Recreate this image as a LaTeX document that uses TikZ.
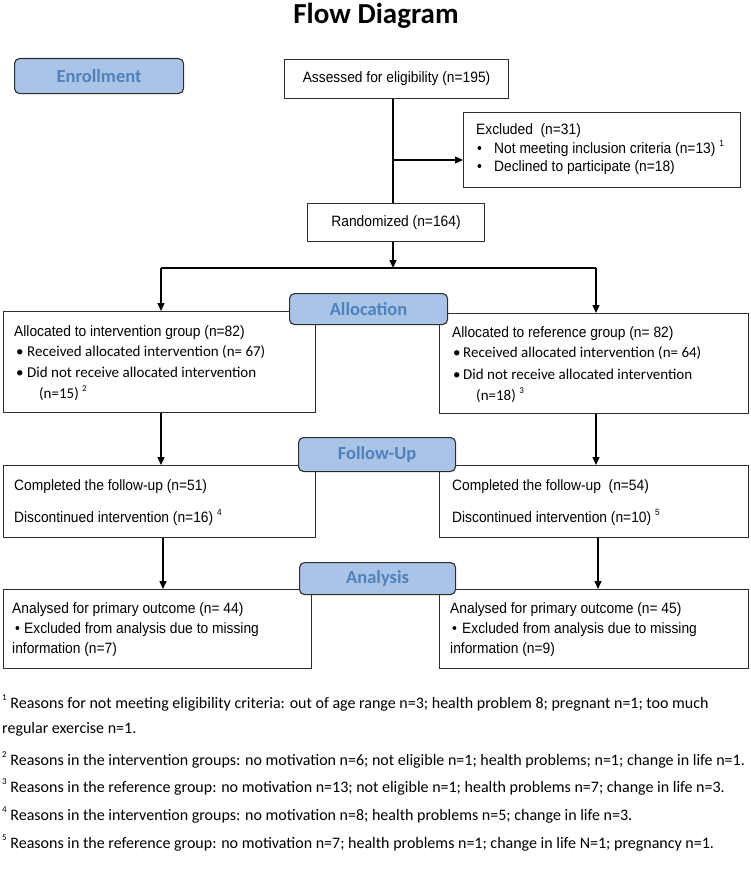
\documentclass[tikz,border=0pt]{standalone}
\usepackage{fontspec}
\setmainfont{Carlito}
\newfontfamily\arl[FakeStretch=0.92]{Liberation Sans}
\usetikzlibrary{arrows.meta}
\definecolor{lblfill}{RGB}{169,196,230}
\definecolor{lbltext}{RGB}{79,129,189}
\definecolor{bordr}{RGB}{45,45,45}
\newcommand{\supn}[1]{\raisebox{0.45em}{\fontsize{9}{9}\selectfont #1}}
\begin{document}
\begin{tikzpicture}[x=1pt,y=-1pt,
  box/.style={draw=bordr, line width=1.1pt, fill=white, anchor=north west, inner sep=0pt},
  lbl/.style={draw=bordr, line width=1.1pt, fill=lblfill, rounded corners=5pt, anchor=north west, inner sep=0pt, text=lbltext, font=\fontsize{18.5}{18.5}\selectfont\bfseries},
  conn/.style={line width=1.4pt, black},
  arr/.style={conn, -{Triangle[length=8pt,width=7pt]}},
  ta/.style={anchor=base west, inner sep=0pt, font=\arl\fontsize{15}{18}\selectfont},
  tc/.style={anchor=base west, inner sep=0pt, font=\fontsize{15}{18}\selectfont},
  fn/.style={anchor=base west, inner sep=0pt, font=\fontsize{16}{19}\selectfont},
]
\useasboundingbox (0,0) rectangle (750,875);

\node[font=\fontsize{29}{29}\selectfont\bfseries, anchor=base, inner sep=0pt] (title) at (376,24) {Flow Diagram};

% Enrollment
\node[lbl, minimum width=169pt, minimum height=35pt] (enrol) at (14,58) {Enrollment};
\node[box, minimum width=224pt, minimum height=39pt, anchor=north west, font=\arl\fontsize{15}{18}\selectfont] (assess) at (284,59) {Assessed for eligibility (n=195)};
\node[box, minimum width=277pt, minimum height=75pt] (excl) at (463,112) {};
\node[ta] (ex1) at (476,134.5) {Excluded\ \ (n=31)};
\node[ta] (ex2b) at (477,153) {•};
\node[ta] (ex2) at (494,153) {Not meeting inclusion criteria (n=13) \supn{1}};
\node[ta] (ex3b) at (477,171.5) {•};
\node[ta] (ex3) at (494,171.5) {Declined to participate (n=18)};
\node[box, minimum width=177pt, minimum height=38pt, font=\arl\fontsize{15}{18}\selectfont] (rand) at (307,203) {Randomized (n=164)};

\coordinate (jx) at (393,160);
\coordinate (split) at (393,268);
\coordinate (bl) at (161,268);
\coordinate (br) at (596,268);
\draw[conn] (assess.south -| jx) -- (rand.north -| jx);
\draw[arr] (jx) -- (jx -| excl.west);
\draw[arr] (rand.south -| jx) -- (split);
\draw[conn] (bl) -- (br);

% Allocation
\node[box, minimum width=312pt, minimum height=101pt] (alL) at (3,311) {};
\node[box, minimum width=309pt, minimum height=100pt] (alR) at (439,313) {};
\draw[arr] (bl) -- (bl |- alL.north);
\draw[arr] (br) -- (br |- alR.north);
\node[lbl, minimum width=158pt, minimum height=31pt] (alloc) at (289,293) {Allocation};

\node[ta] (aL1) at (14,336) {Allocated to intervention group (n=82)};
\node[tc] (aL2b) at (16,356) {•};
\node[tc] (aL2) at (27,356) {Received allocated intervention (n=\ 67)};
\node[tc] (aL3b) at (16,377) {•};
\node[tc] (aL3) at (27,377) {Did not receive allocated intervention};
\node[tc] (aL4) at (39,398) {(n=15) \supn{2}};

\node[ta] (aR1) at (452,337) {Allocated to reference group (n=\ 82)};
\node[tc] (aR2b) at (453,357) {•};
\node[tc] (aR2) at (463,357) {Received allocated intervention (n=\ 64)};
\node[tc] (aR3b) at (453,379) {•};
\node[tc] (aR3) at (463,379) {Did not receive allocated intervention};
\node[tc] (aR4) at (476,400) {(n=18) \supn{3}};

% Follow-up
\node[box, minimum width=312pt, minimum height=72pt] (fuL) at (3,465) {};
\node[box, minimum width=309pt, minimum height=72pt] (fuR) at (439,465) {};
\draw[arr] (alL.south -| bl) -- (fuL.north -| bl);
\draw[arr] (alR.south -| br) -- (fuR.north -| br);
\node[lbl, minimum width=157pt, minimum height=34pt] (follow) at (298,437) {Follow-Up};

\node[ta] (fL1) at (14,490) {Completed the follow-up (n=51)};
\node[ta] (fL2) at (14,522) {Discontinued intervention (n=16) \supn{4}};
\node[ta] (fR1) at (452,490) {Completed the follow-up\ \ (n=54)};
\node[ta] (fR2) at (452,522) {Discontinued intervention (n=10) \supn{5}};

% Analysis
\coordinate (cL) at (163,560);
\coordinate (cR) at (598,560);
\node[box, minimum width=308pt, minimum height=79pt] (anL) at (3,589) {};
\node[box, minimum width=309pt, minimum height=79pt] (anR) at (439,589) {};
\draw[arr] (fuL.south -| cL) -- (anL.north -| cL);
\draw[arr] (fuR.south -| cR) -- (anR.north -| cR);
\node[lbl, minimum width=156pt, minimum height=32pt] (analysis) at (299,562) {Analysis};

\node[ta] (nL1) at (12,613) {Analysed for primary outcome (n=\ 44)};
\node[ta] (nL2b) at (15,633) {•};
\node[ta] (nL2) at (24,633) {Excluded from analysis due to missing};
\node[ta] (nL3) at (12,653) {information (n=7)};
\node[ta] (nR1) at (450,613) {Analysed for primary outcome (n=\ 45)};
\node[ta] (nR2b) at (452,633) {•};
\node[ta] (nR2) at (462,633) {Excluded from analysis due to missing};
\node[ta] (nR3) at (450,653) {information (n=9)};

% Footnotes
\node[fn] (fn1a) at (2,708) {\supn{1} Reasons for not meeting eligibility criteria: out of age range n=3; health problem 8; pregnant n=1; too much};
\node[fn] (fn1b) at (2,733) {regular exercise n=1.};
\node[fn] (fn2) at (2,765) {\supn{2} Reasons in the intervention groups: no motivation n=6; not eligible n=1; health problems; n=1; change in life n=1.};
\node[fn] (fn3) at (2,792) {\supn{3} Reasons in the reference group: no motivation n=13; not eligible n=1; health problems n=7; change in life n=3.};
\node[fn] (fn4) at (2,820) {\supn{4} Reasons in the intervention groups: no motivation n=8; health problems n=5; change in life n=3.};
\node[fn] (fn5) at (2,848) {\supn{5} Reasons in the reference group: no motivation n=7; health problems n=1; change in life N=1; pregnancy n=1.};
\end{tikzpicture}
\end{document}
